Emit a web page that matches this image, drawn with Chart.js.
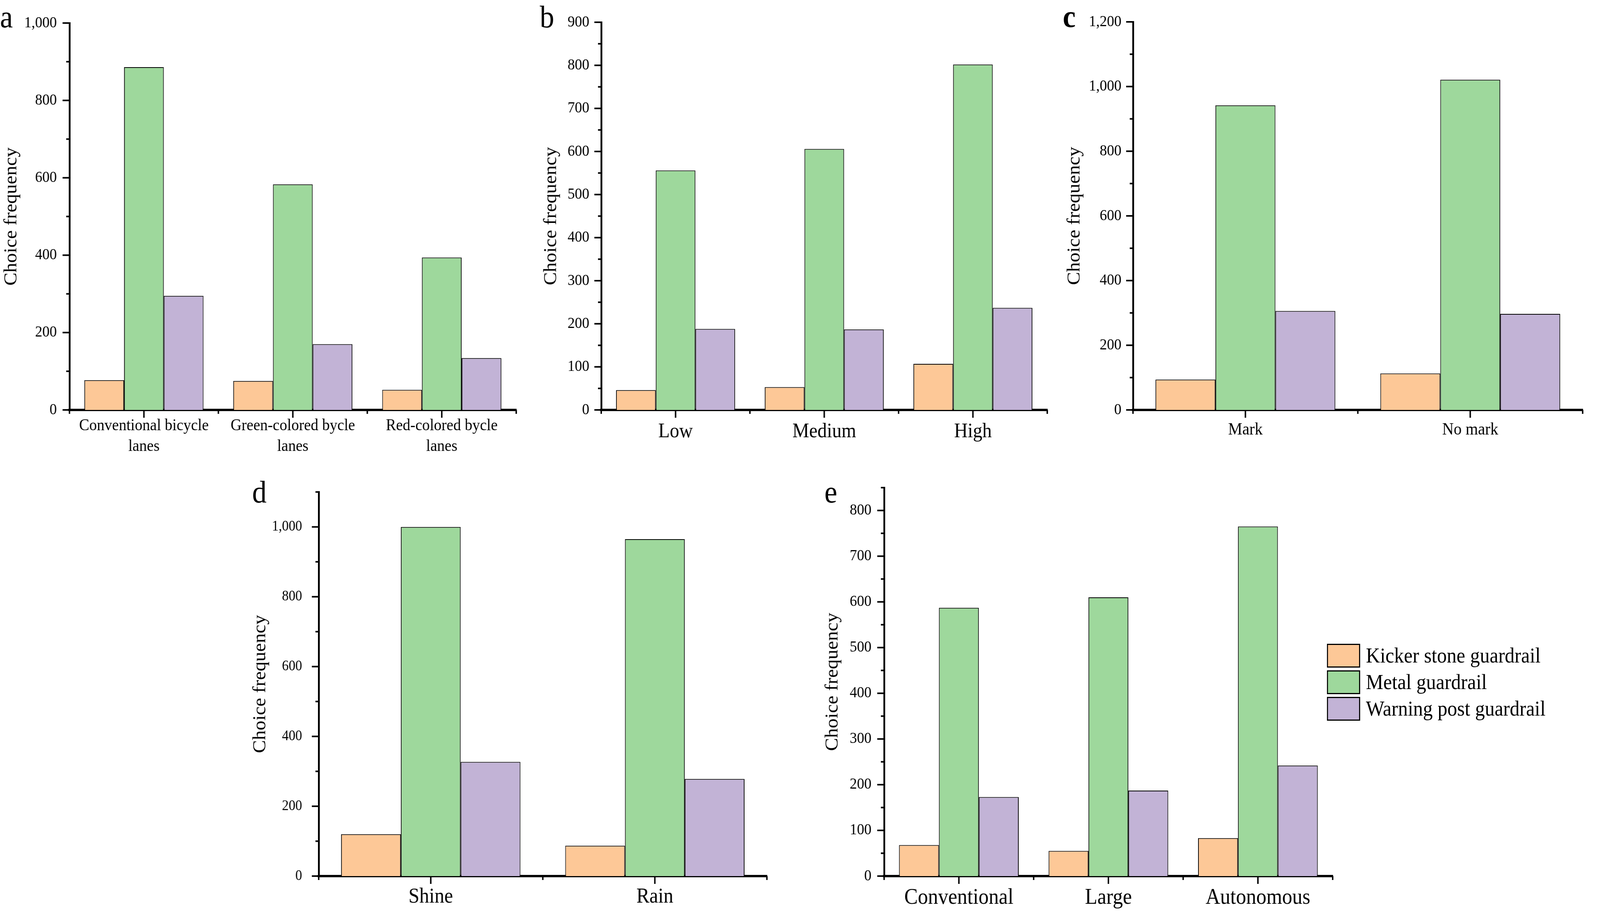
<!DOCTYPE html>
<html lang="en">
<head>
<meta charset="UTF-8">
<title>Choice frequency of guardrail types</title>
<style>
  html, body { margin: 0; padding: 0; background: #fff; overflow: hidden; }
  #page {
    position: absolute; left: 0; top: 0; width: 4423px; height: 2336px;
    transform-origin: 0 0; background: #fff;
    font-family: "Liberation Serif", "Times New Roman", serif; color: #000;
  }
  .panel { position: absolute; }
  .tag { position: absolute; font-size: 80px; line-height: 80px; }
  #legend { position: absolute; left: 3668px; top: 1645px; font-size: 54px; }
  .row { display: flex; align-items: center; height: 68px; line-height: 61px; white-space: nowrap; }
  .swatch { width: 92px; height: 61px; border: 3px solid #000; box-sizing: border-box; margin-right: 16px; }
</style>
</head>
<body>
<div id="page">
  <div class="tag" style="left:0px;top:3px">a</div>
  <div class="tag" style="left:1492px;top:3px">b</div>
  <div class="tag" style="left:2938px;top:2px;font-weight:bold">c</div>
  <div class="tag" style="left:697px;top:1220px">d</div>
  <div class="tag" style="left:2279px;top:1220px">e</div>

  <div class="panel"><canvas id="chartA"></canvas></div>
  <div class="panel"><canvas id="chartB"></canvas></div>
  <div class="panel"><canvas id="chartC"></canvas></div>
  <div class="panel"><canvas id="chartD"></canvas></div>
  <div class="panel"><canvas id="chartE"></canvas></div>

  <div id="legend"></div>
</div>

<script src="https://cdn.jsdelivr.net/npm/chart.js@4.4.0/dist/chart.umd.min.js"></script>
<script>
  // series
  const guardrails = ["Kicker stone guardrail", "Metal guardrail", "Warning post guardrail"];
  const guardrailColors = ["#FDC897", "#9ED89C", "#C2B3D6"];

  // a - bicycle lane type
  const laneLabels = [["Conventional bicycle", "lanes"], ["Green-colored bycle", "lanes"], ["Red-colored bycle", "lanes"]];
  const laneKicker = [77, 75, 52];
  const laneMetal = [886, 583, 394];
  const laneWarning = [295, 170, 134];

  // b - level
  const levelLabels = ["Low", "Medium", "High"];
  const levelKicker = [46, 53, 107];
  const levelMetal = [556, 606, 802];
  const levelWarning = [188, 187, 237];

  // c - marking
  const markLabels = ["Mark", "No mark"];
  const markKicker = [94, 113];
  const markMetal = [942, 1021];
  const markWarning = [306, 297];

  // d - weather
  const weatherLabels = ["Shine", "Rain"];
  const weatherKicker = [120, 87];
  const weatherMetal = [1000, 965];
  const weatherWarning = [327, 278];

  // e - vehicle
  const vehicleLabels = ["Conventional", "Large", "Autonomous"];
  const vehicleKicker = [68, 55, 83];
  const vehicleMetal = [587, 610, 765];
  const vehicleWarning = [173, 187, 242];

  // the layout is measured on a 4423x2336 figure; stretch it onto the real viewport
  const page = document.getElementById("page");
  const kx = window.innerWidth / 4423;
  const ky = window.innerHeight / 2336;
  page.style.transform = "scale(" + kx + "," + ky + ")";

  Chart.defaults.font.family = '"Liberation Serif", "Times New Roman", serif';
  Chart.defaults.color = "#000";

  // major / minor tick marks on both axes
  const tickMarks = {
    id: "tickMarks",
    afterDraw(chart, args, opts) {
      const ctx = chart.ctx;
      const x = chart.scales.x;
      const y = chart.scales.y;
      ctx.save();
      ctx.strokeStyle = "#000";
      ctx.lineWidth = 4;
      const line = (x1, y1, x2, y2) => {
        ctx.beginPath();
        ctx.moveTo(x1, y1);
        ctx.lineTo(x2, y2);
        ctx.stroke();
      };
      const axisX = y.right;
      for (let v = y.min; v <= y.max + 1e-6; v += opts.minor) {
        const py = y.getPixelForValue(v);
        const len = Math.round(v) % opts.major === 0 ? 19 : 9;
        line(axisX, py, axisX - len, py);
      }
      const axisY = x.top;
      const n = x.ticks.length;
      for (let i = 0; i < n; i++) {
        const px = x.getPixelForTick(i);
        line(px, axisY, px, axisY + 20);
      }
      for (let i = 0; i <= n; i++) {
        const px = x.getPixelForValue(i - 0.5);
        line(px, axisY, px, axisY + 10);
      }
      ctx.restore();
    }
  };

  function buildPanel(canvasId, labels, kicker, metal, warning, yAxis, xFont, frame) {
    const canvas = document.getElementById(canvasId);
    const wrap = canvas.parentNode;
    const left = frame.left - frame.yWidth;
    const top = frame.top - frame.padTop;
    wrap.style.left = left + "px";
    wrap.style.top = top + "px";
    wrap.style.width = (frame.right + frame.padRight - left) + "px";
    wrap.style.height = (frame.bottom + frame.xHeight - top) + "px";

    const values = [kicker, metal, warning];

    return new Chart(canvas, {
      type: "bar",
      data: {
        labels: labels,
        datasets: guardrails.map((name, i) => ({
          label: name,
          data: values[i],
          backgroundColor: guardrailColors[i],
          borderColor: "#000",
          borderWidth: 2,
          categoryPercentage: 0.8,
          barPercentage: 1.0
        }))
      },
      options: {
        responsive: true,
        maintainAspectRatio: false,
        animation: false,
        events: [],
        layout: { padding: { top: frame.padTop, right: frame.padRight, left: 0, bottom: 0 } },
        plugins: {
          legend: { display: false },
          tooltip: { enabled: false },
          tickMarks: { major: yAxis.major, minor: yAxis.minor }
        },
        scales: {
          x: {
            offset: true,
            grid: { display: false, drawTicks: false },
            border: { display: true, color: "#000", width: 6 },
            ticks: {
              autoSkip: false,
              maxRotation: 0,
              padding: xFont.padding,
              font: { size: xFont.size, lineHeight: xFont.lineHeight }
            },
            afterFit: (s) => { s.height = frame.xHeight; }
          },
          y: {
            min: 0,
            max: yAxis.max,
            bounds: "data",
            grid: { display: false, drawTicks: false },
            border: { display: true, color: "#000", width: 5 },
            ticks: {
              stepSize: yAxis.major,
              padding: yAxis.padding,
              font: { size: yAxis.size },
              callback: (v) => v.toLocaleString("en-US")
            },
            afterBuildTicks: (s) => {
              s.ticks = s.ticks.filter((t) => Math.round(t.value) % yAxis.major === 0);
            },
            title: {
              display: true,
              text: "Choice frequency",
              font: { size: 50 },
              padding: { top: frame.titlePad, bottom: 0 }
            },
            afterFit: (s) => { s.width = frame.yWidth; }
          }
        }
      },
      plugins: [tickMarks]
    });
  }

  buildPanel("chartA", laneLabels, laneKicker, laneMetal, laneWarning,
    { max: 1000, major: 200, minor: 100, size: 40, padding: 35 },
    { size: 42, lineHeight: 1.25, padding: 15 },
    { left: 192, top: 54, right: 1427, bottom: 1050, yWidth: 192, padTop: 54, padRight: 10, xHeight: 150, titlePad: 2 });

  buildPanel("chartB", levelLabels, levelKicker, levelMetal, levelWarning,
    { max: 900, major: 100, minor: 50, size: 40, padding: 33 },
    { size: 52, lineHeight: 1.2, padding: 25 },
    { left: 1662, top: 55, right: 2895, bottom: 1050, yWidth: 200, padTop: 55, padRight: 10, xHeight: 150, titlePad: 32 });

  buildPanel("chartC", markLabels, markKicker, markMetal, markWarning,
    { max: 1200, major: 200, minor: 100, size: 40, padding: 32 },
    { size: 44, lineHeight: 1.2, padding: 25 },
    { left: 3132, top: 55, right: 4375, bottom: 1050, yWidth: 220, padTop: 55, padRight: 15, xHeight: 150, titlePad: 29 });

  buildPanel("chartD", weatherLabels, weatherKicker, weatherMetal, weatherWarning,
    { max: 1100, major: 200, minor: 100, size: 37, padding: 46 },
    { size: 54, lineHeight: 1.2, padding: 21 },
    { left: 881, top: 1252, right: 2120, bottom: 2244, yWidth: 220, padTop: 60, padRight: 10, xHeight: 92, titlePad: 29 });

  buildPanel("chartE", vehicleLabels, vehicleKicker, vehicleMetal, vehicleWarning,
    { max: 850, major: 100, minor: 50, size: 40, padding: 35 },
    { size: 56, lineHeight: 1.2, padding: 23 },
    { left: 2444, top: 1249, right: 3684, bottom: 2244, yWidth: 190, padTop: 60, padRight: 10, xHeight: 92, titlePad: 18 });

  // legend next to panel e
  const legend = document.getElementById("legend");
  guardrails.forEach((name, i) => {
    const row = document.createElement("div");
    row.className = "row";
    const sw = document.createElement("div");
    sw.className = "swatch";
    sw.style.background = guardrailColors[i];
    const txt = document.createElement("span");
    txt.textContent = name;
    row.appendChild(sw);
    row.appendChild(txt);
    legend.appendChild(row);
  });
</script>
</body>
</html>
